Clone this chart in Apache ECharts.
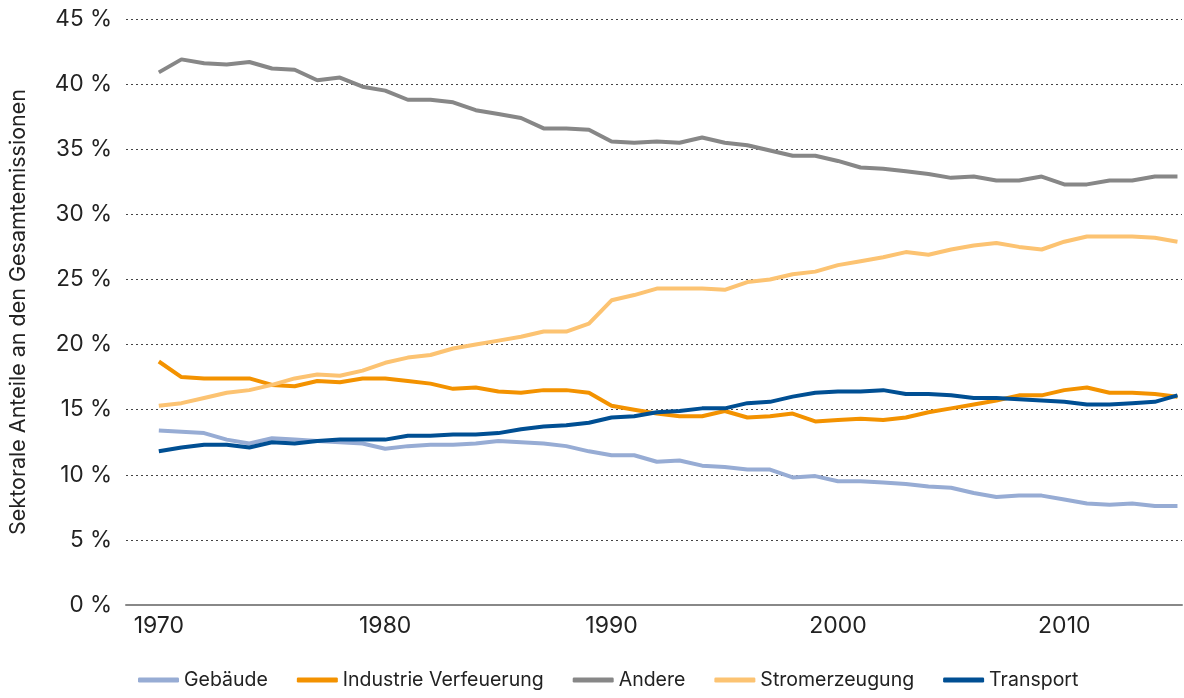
<!DOCTYPE html>
<html>
<head>
<meta charset="utf-8">
<script src="https://cdn.jsdelivr.net/npm/echarts@6/dist/echarts.min.js"></script>
<style>
  html, body { margin: 0; padding: 0; background: #fff; }
  #chart { width: 1184px; height: 698px; }
</style>
</head>
<body>
<div id="chart"></div>
<script>
// years 1970 - 2015
const years = [];
for (let y = 1970; y <= 2015; y++) years.push(y);

const xTicks = [1970, 1980, 1990, 2000, 2010];

const gebaeude = [13.4, 13.3, 13.2, 12.7, 12.4, 12.8, 12.7, 12.6, 12.5, 12.4,
  12.0, 12.2, 12.3, 12.3, 12.4, 12.6, 12.5, 12.4, 12.2, 11.8,
  11.5, 11.5, 11.0, 11.1, 10.7, 10.6, 10.4, 10.4, 9.8, 9.9,
  9.5, 9.5, 9.4, 9.3, 9.1, 9.0, 8.6, 8.3, 8.4, 8.4,
  8.1, 7.8, 7.7, 7.8, 7.6, 7.6];

const industrie = [18.7, 17.5, 17.4, 17.4, 17.4, 16.9, 16.8, 17.2, 17.1, 17.4,
  17.4, 17.2, 17.0, 16.6, 16.7, 16.4, 16.3, 16.5, 16.5, 16.3,
  15.3, 15.0, 14.7, 14.5, 14.5, 14.9, 14.4, 14.5, 14.7, 14.1,
  14.2, 14.3, 14.2, 14.4, 14.8, 15.1, 15.4, 15.7, 16.1, 16.1,
  16.5, 16.7, 16.3, 16.3, 16.2, 16.0];

const andere = [40.9, 41.9, 41.6, 41.5, 41.7, 41.2, 41.1, 40.3, 40.5, 39.8,
  39.5, 38.8, 38.8, 38.6, 38.0, 37.7, 37.4, 36.6, 36.6, 36.5,
  35.6, 35.5, 35.6, 35.5, 35.9, 35.5, 35.3, 34.9, 34.5, 34.5,
  34.1, 33.6, 33.5, 33.3, 33.1, 32.8, 32.9, 32.6, 32.6, 32.9,
  32.3, 32.3, 32.6, 32.6, 32.9, 32.9];

const strom = [15.3, 15.5, 15.9, 16.3, 16.5, 16.9, 17.4, 17.7, 17.6, 18.0,
  18.6, 19.0, 19.2, 19.7, 20.0, 20.3, 20.6, 21.0, 21.0, 21.6,
  23.4, 23.8, 24.3, 24.3, 24.3, 24.2, 24.8, 25.0, 25.4, 25.6,
  26.1, 26.4, 26.7, 27.1, 26.9, 27.3, 27.6, 27.8, 27.5, 27.3,
  27.9, 28.3, 28.3, 28.3, 28.2, 27.9];

const transport = [11.8, 12.1, 12.3, 12.3, 12.1, 12.5, 12.4, 12.6, 12.7, 12.7,
  12.7, 13.0, 13.0, 13.1, 13.1, 13.2, 13.5, 13.7, 13.8, 14.0,
  14.4, 14.5, 14.8, 14.9, 15.1, 15.1, 15.5, 15.6, 16.0, 16.3,
  16.4, 16.4, 16.5, 16.2, 16.2, 16.1, 15.9, 15.9, 15.8, 15.7,
  15.6, 15.4, 15.4, 15.5, 15.6, 16.1];

const seriesDefs = [
  { name: "Gebäude", data: gebaeude, color: "#97acd4" },
  { name: "Industrie Verfeuerung", data: industrie, color: "#f39200" },
  { name: "Andere", data: andere, color: "#878787" },
  { name: "Stromerzeugung", data: strom, color: "#fcc372" },
  { name: "Transport", data: transport, color: "#004f93" }
];

const font = "Inter, Liberation Sans, sans-serif";

let myChart = echarts.init(document.getElementById("chart"), null, { renderer: "canvas" });
myChart.setOption({
  animation: false,
  textStyle: { fontFamily: font },
  grid: {
    left: 124,
    right: 2,
    top: 19,
    bottom: 93
  },
  legend: {
    bottom: 3,
    left: 133,
    icon: "roundRect",
    itemWidth: 41,
    itemHeight: 5,
    itemGap: 29,
    textStyle: { fontSize: 19.5, color: "#222", fontFamily: font },
    data: seriesDefs.map(s => s.name)
  },
  xAxis: {
    type: "value",
    min: 1968.55,
    max: 2015.2,
    axisLine: { show: true, lineStyle: { color: "#888", width: 2 } },
    axisTick: { show: false },
    splitLine: { show: false },
    axisLabel: {
      customValues: xTicks,
      fontSize: 23,
      color: "#222",
      margin: 10,
      formatter: v => String(v)
    }
  },
  yAxis: {
    type: "value",
    min: 0,
    max: 45,
    interval: 5,
    name: "Sektorale Anteile an den Gesamtemissionen",
    nameLocation: "middle",
    nameGap: 96,
    nameTextStyle: { fontSize: 21.5, color: "#222" },
    axisLine: { show: false },
    axisTick: { show: false },
    axisLabel: {
      formatter: "{value} %",
      fontSize: 22.5,
      color: "#222",
      margin: 14
    },
    splitLine: {
      show: true,
      lineStyle: { color: "#444", width: 1, type: [2, 3] }
    }
  },
  series: seriesDefs.map(s => ({
    name: s.name,
    type: "line",
    showSymbol: false,
    symbol: "none",
    color: s.color,
    lineStyle: { width: 4, color: s.color },
    data: years.map((y, i) => [y, s.data[i]])
  }))
});
</script>
</body>
</html>
